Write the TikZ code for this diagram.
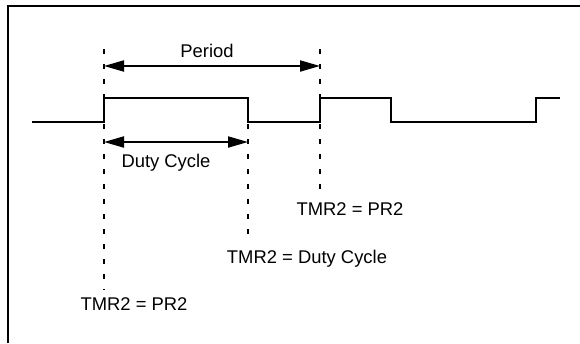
\documentclass[tikz,border=0pt]{standalone}
\usepackage{fontspec}
\setmainfont{Liberation Sans}
\usetikzlibrary{arrows.meta,positioning}

\begin{document}
\begin{tikzpicture}[x=1pt, y=-1pt, font=\fontsize{18.4}{22}\selectfont]
\tikzset{
    %Define standard arrow tip
    >={Triangle[length=20pt,width=11pt]},
    %Define style for the waveform
    sig/.style={line width=2pt, line join=miter},
    % Define style for the dashed marker lines
    markline/.style={line width=2pt, dash pattern=on 5pt off 10pt},
    % Define arrow style
    dim/.style={<->, line width=2pt},
    lbl/.style={inner sep=0pt}
}
\useasboundingbox (0,0) rectangle (580,343);
% frame
\draw[line width=2pt] (8,343) -- (8,5.5) -- (580,5.5);
% waveform
\draw[sig] (32,122) -| (104,98) -| (248,122) -| (320,98) -| (391,122) -| (536,98) -- (560,98);
% marker lines
\coordinate (p0top) at (104,49);
\coordinate (p0bot) at (104,290);
\coordinate (dctop) at (248,124);
\coordinate (dcbot) at (248,242);
\coordinate (p1top) at (320,49);
\coordinate (p1bot) at (320,193);
\draw[markline] (p0top) -- (p0bot);
\draw[markline] (dctop) -- (dcbot);
\draw[markline] (p1top) -- (p1bot);
% dimension arrows
\coordinate (perL) at (104,66);
\coordinate (perR) at (320,66);
\coordinate (dutyL) at (104,142);
\coordinate (dutyR) at (248,142);
\draw[dim] (perL) -- (perR);
\draw[dim] (dutyL) -- (dutyR);
% labels
\node[lbl] (period) at (207,51) {Period};
\node[lbl] (duty) at (166,163) {Duty Cycle};
\node[lbl] (tmrpr) at (350,209) {TMR2 = PR2};
\node[lbl] (tmrdc) at (307,259) {TMR2 = Duty Cycle};
\node[lbl] (tmrpr0) at (134,304) {TMR2 = PR2};
\end{tikzpicture}
\end{document}
